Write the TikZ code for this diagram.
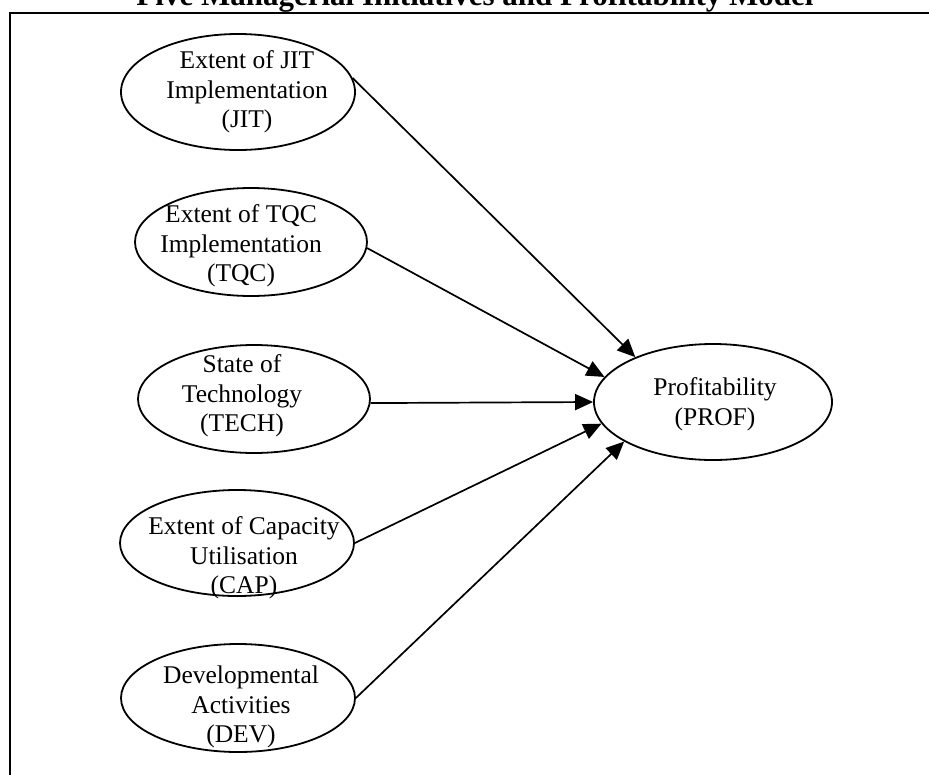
\documentclass[tikz,border=0pt]{standalone}
\usepackage{fontspec}
\setmainfont{Liberation Serif}
\usetikzlibrary{shapes.geometric,arrows.meta}
\tikzset{
  oval/.style={ellipse, draw, line width=1.8pt, inner sep=0pt, minimum width=234pt, minimum height=112pt},
  txt/.style={align=center, inner sep=0pt, font=\fontsize{25.5}{29.5}\selectfont},
  conn/.style={line width=1.7pt, -{Triangle[length=18pt,width=16pt]}},
  frame/.style={line width=2.2pt}
}
\begin{document}
\begin{tikzpicture}[x=1pt,y=1pt]
\useasboundingbox (0,0) rectangle (929,-774);
\draw[frame] (10,-800) coordinate (fbl) -- (10,-13) coordinate (ftl) -- (960,-13) coordinate (ftr);
\node[anchor=base, inner sep=0pt, font=\fontsize{31}{36}\selectfont\bfseries] (title) at (475,-5) {Five Managerial Initiatives and Profitability Model};

\node[oval, minimum height=116pt] (jit) at (238,-92) {};
\node[txt] (jitT) at (247,-92) {Extent of JIT\\Implementation\\(JIT)};

\node[oval, minimum width=232pt, minimum height=108pt] (tqc) at (251,-242) {};
\node[txt] (tqcT) at (241,-246) {Extent of TQC\\Implementation\\(TQC)};

\node[oval, minimum width=232pt, minimum height=108pt] (tech) at (254,-399) {};
\node[txt] (techT) at (242,-396) {State of\\Technology\\(TECH)};

\node[oval, minimum height=106pt] (cap) at (237,-543) {};
\node[txt] (capT) at (244,-558) {Extent of Capacity\\Utilisation\\(CAP)};

\node[oval, minimum height=108pt] (dev) at (238,-698) {};
\node[txt] (devT) at (241,-707) {Developmental\\Activities\\(DEV)};

\node[oval, minimum width=238pt, minimum height=116pt] (prof) at (713,-402) {};
\node[txt] (profT) at (715,-404) {Profitability\\(PROF)};

\draw[conn] (jit.7) -- (prof.150);
\draw[conn] (tqc.-3) -- (prof.167);
\draw[conn] (tech.-2) -- (prof.180);
\draw[conn] (cap.0) -- (prof.191);
\draw[conn] (dev.0) -- (prof.204);
\end{tikzpicture}
\end{document}
